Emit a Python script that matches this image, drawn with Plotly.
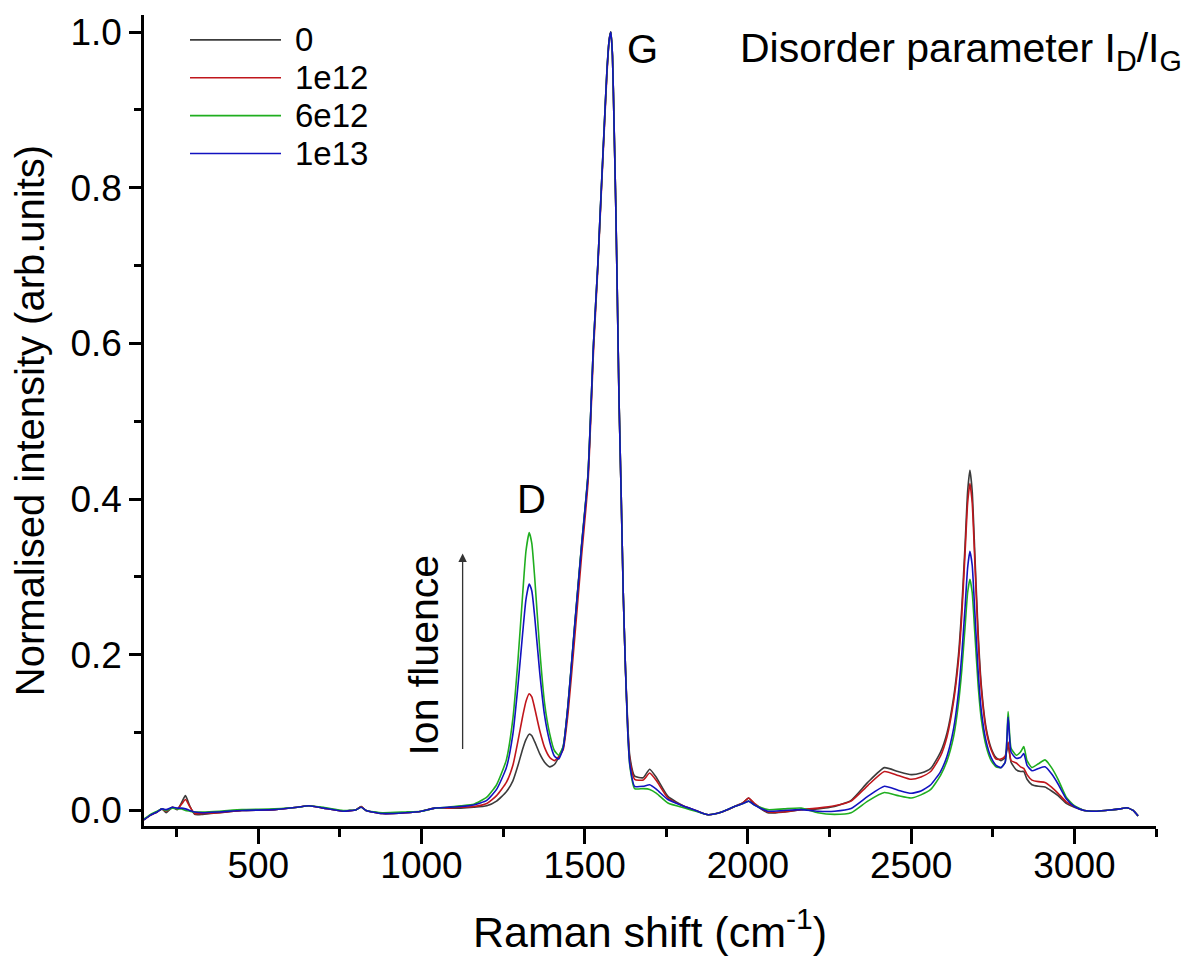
import plotly.graph_objects as go

# Raman shift (cm^-1)
raman_shift = [150, 170, 190, 205, 218, 237, 252, 265, 277, 290, 305, 330, 380, 450, 550, 620, 655, 700, 760, 800,
               815, 830, 880, 950, 1000, 1040, 1080, 1120, 1160, 1200, 1230, 1260, 1280, 1295, 1310, 1320, 1330, 1338,
               1347, 1362, 1377, 1393, 1407, 1420, 1434, 1449, 1469, 1490, 1510, 1527, 1540, 1551, 1560, 1568, 1575,
               1580, 1585, 1590, 1595, 1600, 1605, 1612, 1618, 1625, 1632, 1638, 1653, 1679, 1699, 1720, 1755, 1806,
               1840, 1878, 1920, 1959, 1985, 2002, 2020, 2061, 2110, 2163, 2214, 2265, 2316, 2367, 2418, 2460, 2500,
               2530, 2560, 2590, 2610, 2630, 2645, 2655, 2665, 2673, 2680, 2687, 2695, 2705, 2715, 2730, 2745, 2760,
               2775, 2788, 2797, 2806, 2822, 2835, 2845, 2855, 2870, 2890, 2910, 2930, 2950, 2975, 3000, 3030, 3070,
               3110, 3140, 3160, 3180, 3195]

fluence_0 = [-0.012, -0.006, -0.002, 0.002, -0.003, 0.004, 0.001, 0.010, 0.019, 0.006, -0.005, -0.005, -0.003, 0.000,
             0.001, 0.004, 0.006, 0.003, -0.001, 0.001, 0.005, 0.000, -0.004, -0.003, -0.001, 0.003, 0.003, 0.003,
             0.004, 0.006, 0.012, 0.024, 0.038, 0.057, 0.079, 0.091, 0.098, 0.096, 0.088, 0.073, 0.062, 0.056, 0.059,
             0.068, 0.082, 0.135, 0.235, 0.338, 0.430, 0.600, 0.700, 0.800, 0.880, 0.950, 0.990, 1.000, 0.970, 0.880,
             0.780, 0.660, 0.530, 0.400, 0.280, 0.180, 0.110, 0.070, 0.044, 0.042, 0.053, 0.042, 0.018, 0.005, 0.000,
             -0.0055, -0.002, 0.005, 0.010, 0.016, 0.008, -0.003, -0.002, 0.001, 0.002, 0.005, 0.013, 0.036, 0.055,
             0.050, 0.046, 0.048, 0.054, 0.075, 0.100, 0.145, 0.200, 0.260, 0.340, 0.410, 0.437, 0.410, 0.330, 0.230,
             0.160, 0.105, 0.080, 0.068, 0.064, 0.068, 0.084, 0.062, 0.052, 0.050, 0.050, 0.040, 0.033, 0.031, 0.030,
             0.025, 0.019, 0.009, 0.004, 0.000, -0.001, 0.0005, 0.002, 0.0035, 0.000, -0.007]

fluence_1e12 = [-0.012, -0.006, -0.002, 0.002, -0.001, 0.004, 0.002, 0.008, 0.014, 0.005, -0.004, -0.004, -0.003, 0.000,
                0.001, 0.004, 0.006, 0.003, -0.001, 0.001, 0.005, 0.000, -0.004, -0.003, -0.001, 0.003, 0.003, 0.004,
                0.005, 0.009, 0.019, 0.036, 0.058, 0.088, 0.121, 0.140, 0.150, 0.146, 0.131, 0.103, 0.081, 0.068,
                0.064, 0.069, 0.078, 0.125, 0.220, 0.325, 0.420, 0.590, 0.695, 0.795, 0.875, 0.945, 0.990, 1.000,
                0.970, 0.880, 0.780, 0.660, 0.530, 0.400, 0.280, 0.180, 0.105, 0.066, 0.040, 0.039, 0.048, 0.038,
                0.016, 0.005, 0.000, -0.0055, -0.002, 0.005, 0.010, 0.016, 0.009, -0.002, -0.002, 0.001, 0.003, 0.006,
                0.012, 0.032, 0.050, 0.045, 0.040, 0.043, 0.050, 0.070, 0.095, 0.140, 0.193, 0.250, 0.330, 0.395,
                0.420, 0.395, 0.320, 0.222, 0.155, 0.102, 0.078, 0.066, 0.066, 0.070, 0.088, 0.064, 0.061, 0.056,
                0.054, 0.046, 0.039, 0.037, 0.036, 0.030, 0.022, 0.011, 0.005, 0.000, -0.001, 0.0005, 0.002, 0.0035,
                0.000, -0.007]

fluence_6e12 = [-0.011, -0.005, -0.001, 0.002, 0.000, 0.003, 0.002, 0.002, 0.000, -0.001, -0.002, -0.002, -0.001, 0.001,
                0.002, 0.004, 0.006, 0.004, 0.000, 0.001, 0.004, 0.000, -0.003, -0.002, -0.001, 0.003, 0.004, 0.006,
                0.008, 0.017, 0.033, 0.065, 0.118, 0.190, 0.278, 0.333, 0.357, 0.343, 0.298, 0.208, 0.138, 0.098,
                0.077, 0.071, 0.082, 0.137, 0.237, 0.340, 0.432, 0.600, 0.700, 0.800, 0.880, 0.950, 0.990, 1.000,
                0.970, 0.880, 0.780, 0.660, 0.530, 0.400, 0.280, 0.180, 0.100, 0.058, 0.028, 0.028, 0.027, 0.022,
                0.0095, 0.003, -0.001, -0.0055, -0.002, 0.005, 0.009, 0.012, 0.007, 0.001, 0.002, 0.003, -0.003,
                -0.005, -0.003, 0.012, 0.023, 0.019, 0.016, 0.020, 0.027, 0.045, 0.064, 0.095, 0.138, 0.180, 0.235,
                0.280, 0.297, 0.280, 0.228, 0.162, 0.117, 0.082, 0.064, 0.056, 0.055, 0.062, 0.127, 0.080, 0.071,
                0.075, 0.082, 0.064, 0.055, 0.060, 0.065, 0.055, 0.040, 0.017, 0.006, 0.000, -0.001, 0.0005, 0.002,
                0.0035, 0.000, -0.007]

fluence_1e13 = [-0.012, -0.006, -0.002, 0.002, 0.001, 0.004, 0.003, 0.003, 0.002, 0.000, -0.002, -0.003, -0.002, 0.000,
                0.001, 0.004, 0.006, 0.003, -0.001, 0.001, 0.004, 0.000, -0.004, -0.003, -0.001, 0.003, 0.004, 0.005,
                0.007, 0.013, 0.027, 0.055, 0.098, 0.158, 0.228, 0.271, 0.291, 0.282, 0.248, 0.178, 0.122, 0.088,
                0.070, 0.066, 0.080, 0.136, 0.236, 0.338, 0.430, 0.600, 0.700, 0.800, 0.880, 0.950, 0.990, 1.000,
                0.970, 0.880, 0.780, 0.660, 0.530, 0.400, 0.280, 0.180, 0.100, 0.060, 0.031, 0.031, 0.033, 0.027,
                0.014, 0.005, 0.000, -0.0055, -0.002, 0.005, 0.009, 0.012, 0.007, -0.001, 0.000, 0.001, -0.001,
                -0.001, 0.0025, 0.018, 0.031, 0.026, 0.022, 0.025, 0.033, 0.050, 0.070, 0.105, 0.152, 0.200, 0.260,
                0.312, 0.333, 0.315, 0.255, 0.180, 0.128, 0.088, 0.068, 0.058, 0.055, 0.062, 0.120, 0.075, 0.067,
                0.068, 0.073, 0.058, 0.051, 0.054, 0.056, 0.047, 0.034, 0.015, 0.005, 0.000, -0.001, 0.0005, 0.002,
                0.0035, 0.000, -0.007]

series_names = ["0", "1e12", "6e12", "1e13"]
series_values = [fluence_0, fluence_1e12, fluence_6e12, fluence_1e13]
series_colors = ["#3c3c3c", "#c0161c", "#1fae1f", "#1212c0"]

x_ticks = [500, 1000, 1500, 2000, 2500, 3000]
y_ticks = [0.0, 0.2, 0.4, 0.6, 0.8, 1.0]

FONT = "Arial, Liberation Sans, sans-serif"

fig = go.Figure()
for name, vals, col in zip(series_names, series_values, series_colors):
    fig.add_trace(go.Scatter(x=raman_shift, y=vals, mode="lines", name=name,
                             line=dict(color=col, width=1.6, shape="spline", smoothing=0.5),
                             showlegend=False))

# plot area geometry (pixels) for manual legend in paper coords
L, R, T, B = 144, 1156, 12, 826
W, H = R - L, B - T


def px(xp):
    return (xp - L) / W


def py(yp):
    return (B - yp) / H


shapes = []
annotations = []
legend_rows = [37, 75, 113, 151]
for name, col, yrow in zip(series_names, series_colors, legend_rows):
    shapes.append(dict(type="line", xref="paper", yref="paper", x0=px(190), x1=px(281), y0=py(yrow), y1=py(yrow),
                       line=dict(color=col, width=1.6)))
    annotations.append(dict(xref="paper", yref="paper", x=px(294), y=py(yrow), text=name, showarrow=False,
                            xanchor="left", yanchor="middle", borderpad=0,
                            font=dict(family=FONT, size=33, color="black")))

annotations += [
    dict(xref="paper", yref="paper", x=px(738), y=py(48), text="Disorder parameter I<sub>D</sub>/I<sub>G</sub>",
         showarrow=False, xanchor="left", yanchor="middle", font=dict(family=FONT, size=41, color="black")),
    dict(x=1677, y=0.978, text="G", showarrow=False, font=dict(family=FONT, size=40, color="black")),
    dict(x=1338, y=0.40, text="D", showarrow=False, font=dict(family=FONT, size=40, color="black")),
    dict(x=1007, y=0.20, text="Ion fluence", showarrow=False, textangle=-90,
         font=dict(family=FONT, size=41, color="black")),
    dict(x=1126, y=0.33, ax=1126, ay=0.077, xref="x", yref="y", axref="x", ayref="y", text="",
         showarrow=True, arrowhead=2, arrowsize=1.3, arrowwidth=1.3, arrowcolor="#333333"),
]

fig.update_layout(
    width=1194, height=961,
    margin=dict(l=L, r=1194 - R, t=T, b=961 - B),
    paper_bgcolor="white", plot_bgcolor="white",
    font=dict(family=FONT, color="black"),
    shapes=shapes, annotations=annotations,
    xaxis=dict(range=[150, 3250], tickvals=x_ticks, ticktext=[str(v) for v in x_ticks],
               showline=True, linecolor="black", linewidth=2.5, mirror=False, showgrid=False, zeroline=False,
               ticks="outside", ticklen=15, tickwidth=2.5, tickcolor="black", ticklabelstandoff=-10,
               tickfont=dict(family=FONT, size=37, color="black"),
               minor=dict(tickvals=[250, 750, 1250, 1750, 2250, 2750, 3250], ticks="outside", ticklen=8,
                          tickwidth=2.5, tickcolor="black", showgrid=False),
               title=dict(text="Raman shift (cm<sup>-1</sup>)", font=dict(family=FONT, size=43, color="black"),
                          standoff=32)),
    yaxis=dict(range=[-0.02, 1.022], tickvals=y_ticks, ticktext=["%.1f" % v for v in y_ticks],
               showline=True, linecolor="black", linewidth=2.5, mirror=False, showgrid=False, zeroline=False,
               ticks="outside", ticklen=12, tickwidth=2.5, tickcolor="black",
               tickfont=dict(family=FONT, size=37, color="black"),
               minor=dict(tickvals=[0.1, 0.3, 0.5, 0.7, 0.9], ticks="outside", ticklen=7,
                          tickwidth=2.5, tickcolor="black", showgrid=False),
               title=dict(text="Normalised intensity (arb.units)", font=dict(family=FONT, size=40, color="black"),
                          standoff=14)),
)

fig.write_html("out.html")
